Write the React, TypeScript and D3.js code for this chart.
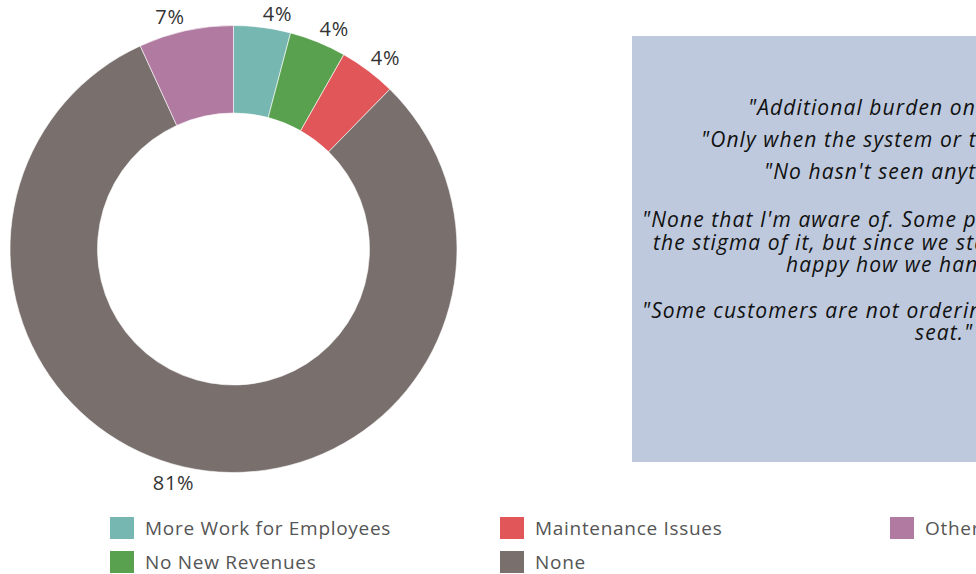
import React from 'react';
import * as d3 from 'd3';

const categories = ['More Work for Employees', 'No New Revenues', 'Maintenance Issues', 'None', 'Other'];
const counts = [3, 3, 3, 59, 5];
const colors = ['#76b7b2', '#59a14f', '#e15759', '#79706e', '#b07aa1'];

const quoteLines = [
  '"Additional burden on employees."',
  '"Only when the system or the tablets are down."',
  '"No hasn\'t seen anything."',
  '"None that I\'m aware of. Some people were worried about',
  'the stigma of it, but since we started they have been',
  'happy how we handled it."',
  '"Some customers are not ordering because there is no',
  'seat."',
];

const W = 976;
const H = 574;
const cx = 233.5;
const cy = 249;
const outerR = 223.5;
const innerR = 136;

// layout of the quote box text (start x, center y)
const quoteX = [748, 701, 764, 642, 653, 786, 642, 915];
const quoteY = [108, 140, 172, 220, 243, 265, 311, 333];

export default function App() {
  const total = d3.sum(counts);
  const data = categories.map((c, i) => ({ cat: c, value: counts[i], color: colors[i] }));
  const pie = d3.pie<any>().value((d: any) => d.value).sort(null);
  const arcs = pie(data);
  const arc = d3.arc<any>().innerRadius(innerR).outerRadius(outerR);
  const fmt = d3.format('.0%');

  const labelR = outerR + 4.5;
  return (
    <svg width={W} height={H} style={{ position: 'absolute', left: 0, top: 0, background: '#fff' }}>
      <rect x={632} y={36} width={W - 632 + 10} height={426} fill="#bec9dd" />
      {quoteLines.map((t, i) => (
        <text key={i} x={quoteX[i]} y={quoteY[i]} dy="0.35em" fontFamily="'Open Sans', sans-serif"
          fontStyle="italic" fontSize={21} letterSpacing={1.1} fill="#111">{t}</text>
      ))}
      <g transform={`translate(${cx},${cy})`}>
        {arcs.map((a, i) => (
          <path key={i} d={arc(a) as string} fill={a.data.color} stroke="#fff" strokeWidth={0.6} />
        ))}
        {arcs.map((a, i) => {
          const m = (a.startAngle + a.endAngle) / 2;
          const s = Math.sin(m);
          const c = Math.cos(m);
          const x = s * labelR;
          const y = -c * labelR + (c > 0 ? -9 : 9);
          return (
            <text key={i} x={x} y={y} textAnchor={s >= 0 ? 'start' : 'end'} dy="0.35em"
              fontFamily="'Open Sans', sans-serif" fontSize={20} letterSpacing={0.8} fill="#333">
              {fmt(a.data.value / total)}
            </text>
          );
        })}
      </g>
      {data.map((d, i) => {
        const col = Math.floor(i / 2);
        const row = i % 2;
        const x = 110 + col * 390;
        const y = 528 + row * 34;
        return (
          <g key={i}>
            <rect x={x} y={y - 11} width={24} height={22} fill={d.color} />
            <text x={x + 35} y={y} dy="0.35em" fontFamily="'Open Sans', sans-serif" fontSize={19}
              letterSpacing={0.7} fill="#555">{d.cat}</text>
          </g>
        );
      })}
    </svg>
  );
}
